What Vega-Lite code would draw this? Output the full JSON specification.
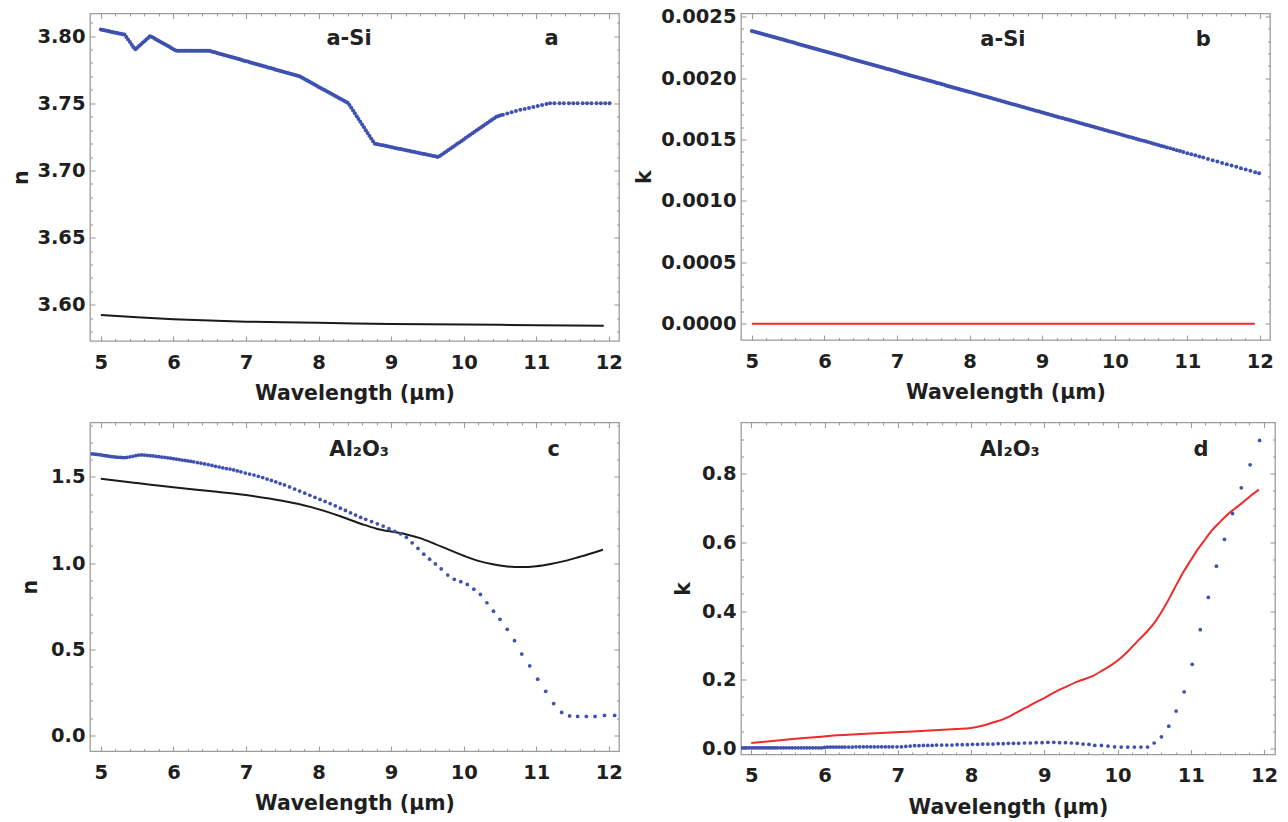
{
"$schema": "https://vega.github.io/schema/vega-lite/v6.json",
"autosize": {"type": "none"},
"padding": {"left": 90, "top": 13.5, "right": 1198, "bottom": 808},
"bounds": "flush",
"columns": 2,
"spacing": {"row": 81, "column": 122},
"config": {
  "view": {"stroke": "#9c9c9c", "strokeWidth": 1.3},
  "axis": {"domain": false, "grid": false, "tickColor": "#9c9c9c", "tickWidth": 1.1, "labelFont": "DejaVu Sans", "labelFontSize": 19.5, "labelFontWeight": "bold", "labelColor": "#1f1f1f", "titleFont": "DejaVu Sans", "titleFontSize": 20.5, "titleFontWeight": "bold", "titleColor": "#1f1f1f", "labelFlush": false, "labelOverlap": false}
},
"datasets": {
  "a_exp": [{"w":5.00,"v":3.8049},{"w":5.05,"v":3.8043},{"w":5.10,"v":3.8037},{"w":5.15,"v":3.8031},{"w":5.20,"v":3.8025},{"w":5.25,"v":3.8019},{"w":5.30,"v":3.8014},{"w":5.35,"v":3.7994},{"w":5.40,"v":3.7955},{"w":5.45,"v":3.7916},{"w":5.50,"v":3.7914},{"w":5.55,"v":3.7938},{"w":5.60,"v":3.7962},{"w":5.65,"v":3.7986},{"w":5.70,"v":3.7994},{"w":5.75,"v":3.7979},{"w":5.80,"v":3.7963},{"w":5.85,"v":3.7948},{"w":5.90,"v":3.7933},{"w":5.95,"v":3.7918},{"w":6.00,"v":3.7902},{"w":6.05,"v":3.789},{"w":6.10,"v":3.789},{"w":6.15,"v":3.789},{"w":6.20,"v":3.789},{"w":6.25,"v":3.789},{"w":6.30,"v":3.789},{"w":6.35,"v":3.789},{"w":6.40,"v":3.789},{"w":6.45,"v":3.789},{"w":6.50,"v":3.789},{"w":6.55,"v":3.7882},{"w":6.60,"v":3.7875},{"w":6.65,"v":3.7867},{"w":6.70,"v":3.7859},{"w":6.75,"v":3.7852},{"w":6.80,"v":3.7844},{"w":6.85,"v":3.7836},{"w":6.90,"v":3.7829},{"w":6.95,"v":3.7821},{"w":7.00,"v":3.7813},{"w":7.05,"v":3.7806},{"w":7.10,"v":3.7798},{"w":7.15,"v":3.779},{"w":7.20,"v":3.7783},{"w":7.25,"v":3.7775},{"w":7.30,"v":3.7767},{"w":7.35,"v":3.776},{"w":7.40,"v":3.7752},{"w":7.45,"v":3.7744},{"w":7.50,"v":3.7737},{"w":7.55,"v":3.7729},{"w":7.60,"v":3.7721},{"w":7.65,"v":3.7714},{"w":7.70,"v":3.7706},{"w":7.75,"v":3.7697},{"w":7.80,"v":3.7682},{"w":7.85,"v":3.7667},{"w":7.90,"v":3.7652},{"w":7.95,"v":3.7637},{"w":8.00,"v":3.7622},{"w":8.05,"v":3.7607},{"w":8.10,"v":3.7593},{"w":8.15,"v":3.7578},{"w":8.20,"v":3.7563},{"w":8.25,"v":3.7548},{"w":8.30,"v":3.7533},{"w":8.35,"v":3.7518},{"w":8.40,"v":3.7503},{"w":8.45,"v":3.7467},{"w":8.50,"v":3.7425},{"w":8.55,"v":3.7383},{"w":8.60,"v":3.7342},{"w":8.65,"v":3.73},{"w":8.70,"v":3.7258},{"w":8.75,"v":3.7217},{"w":8.80,"v":3.7197},{"w":8.86,"v":3.719},{"w":8.92,"v":3.7183},{"w":8.98,"v":3.7176},{"w":9.04,"v":3.7169},{"w":9.10,"v":3.7162},{"w":9.16,"v":3.7156},{"w":9.22,"v":3.7149},{"w":9.28,"v":3.7142},{"w":9.34,"v":3.7135},{"w":9.40,"v":3.7128},{"w":9.46,"v":3.7122},{"w":9.52,"v":3.7115},{"w":9.58,"v":3.7108},{"w":9.64,"v":3.7101},{"w":9.70,"v":3.7119},{"w":9.76,"v":3.7141},{"w":9.82,"v":3.7164},{"w":9.88,"v":3.7186},{"w":9.94,"v":3.7209},{"w":10.00,"v":3.7231},{"w":10.06,"v":3.7254},{"w":10.12,"v":3.7276},{"w":10.18,"v":3.7299},{"w":10.24,"v":3.7321},{"w":10.30,"v":3.7344},{"w":10.36,"v":3.7366},{"w":10.42,"v":3.7389},{"w":10.48,"v":3.7405},{"w":10.54,"v":3.7414},{"w":10.60,"v":3.7423},{"w":10.66,"v":3.7433},{"w":10.72,"v":3.7442},{"w":10.78,"v":3.7451},{"w":10.84,"v":3.7458},{"w":10.90,"v":3.7465},{"w":10.96,"v":3.7473},{"w":11.02,"v":3.748},{"w":11.08,"v":3.7487},{"w":11.14,"v":3.7494},{"w":11.19,"v":3.75},{"w":11.25,"v":3.75},{"w":11.32,"v":3.75},{"w":11.38,"v":3.75},{"w":11.45,"v":3.75},{"w":11.51,"v":3.75},{"w":11.57,"v":3.75},{"w":11.64,"v":3.75},{"w":11.70,"v":3.75},{"w":11.76,"v":3.75},{"w":11.83,"v":3.75},{"w":11.89,"v":3.75},{"w":11.95,"v":3.75},{"w":12.01,"v":3.75},
    {"w":5.025,"v":3.8046},{"w":5.075,"v":3.804},{"w":5.125,"v":3.8034},{"w":5.175,"v":3.8028},{"w":5.225,"v":3.8022},{"w":5.275,"v":3.8017},{"w":5.325,"v":3.8011},{"w":5.375,"v":3.7975},{"w":5.425,"v":3.7936},{"w":5.475,"v":3.7902},{"w":5.525,"v":3.7926},{"w":5.575,"v":3.795},{"w":5.625,"v":3.7974},{"w":5.675,"v":3.7998},{"w":5.725,"v":3.7987},{"w":5.775,"v":3.7971},{"w":5.825,"v":3.7956},{"w":5.875,"v":3.7941},{"w":5.925,"v":3.7926},{"w":5.975,"v":3.791},{"w":6.025,"v":3.7895},{"w":6.075,"v":3.789},{"w":6.125,"v":3.789},{"w":6.175,"v":3.789},{"w":6.225,"v":3.789},{"w":6.275,"v":3.789},{"w":6.325,"v":3.789},{"w":6.375,"v":3.789},{"w":6.425,"v":3.789},{"w":6.475,"v":3.789},{"w":6.525,"v":3.7886},{"w":6.575,"v":3.7879},{"w":6.625,"v":3.7871},{"w":6.675,"v":3.7863},{"w":6.725,"v":3.7856},{"w":6.775,"v":3.7848},{"w":6.825,"v":3.784},{"w":6.875,"v":3.7833},{"w":6.925,"v":3.7825},{"w":6.975,"v":3.7817},{"w":7.025,"v":3.781},{"w":7.075,"v":3.7802},{"w":7.125,"v":3.7794},{"w":7.175,"v":3.7787},{"w":7.225,"v":3.7779},{"w":7.275,"v":3.7771},{"w":7.325,"v":3.7764},{"w":7.375,"v":3.7756},{"w":7.425,"v":3.7748},{"w":7.475,"v":3.7741},{"w":7.525,"v":3.7733},{"w":7.575,"v":3.7725},{"w":7.625,"v":3.7718},{"w":7.675,"v":3.771},{"w":7.725,"v":3.7702},{"w":7.775,"v":3.769},{"w":7.825,"v":3.7675},{"w":7.875,"v":3.766},{"w":7.925,"v":3.7645},{"w":7.975,"v":3.763},{"w":8.025,"v":3.7615},{"w":8.075,"v":3.76},{"w":8.125,"v":3.7586},{"w":8.175,"v":3.7571},{"w":8.225,"v":3.7556},{"w":8.275,"v":3.7541},{"w":8.325,"v":3.7526},{"w":8.375,"v":3.7511},{"w":8.425,"v":3.7488},{"w":8.475,"v":3.7446},{"w":8.525,"v":3.7404},{"w":8.575,"v":3.7363},{"w":8.625,"v":3.7321},{"w":8.675,"v":3.7279},{"w":8.725,"v":3.7238},{"w":8.775,"v":3.7199},
    {"w":8.83,"v":3.7194},{"w":8.89,"v":3.7187},{"w":8.95,"v":3.718},{"w":9.01,"v":3.7173},{"w":9.07,"v":3.7166},{"w":9.13,"v":3.7159},{"w":9.19,"v":3.7153},{"w":9.25,"v":3.7146},{"w":9.31,"v":3.7139},{"w":9.37,"v":3.7132},{"w":9.43,"v":3.7125},{"w":9.49,"v":3.7119},{"w":9.55,"v":3.7112},{"w":9.61,"v":3.7105},{"w":9.67,"v":3.7108},{"w":9.73,"v":3.713},{"w":9.79,"v":3.7153},{"w":9.85,"v":3.7175},{"w":9.91,"v":3.7198},{"w":9.97,"v":3.722},{"w":10.03,"v":3.7243},{"w":10.09,"v":3.7265},{"w":10.15,"v":3.7288},{"w":10.21,"v":3.731},{"w":10.27,"v":3.7333},{"w":10.33,"v":3.7355},{"w":10.39,"v":3.7378},{"w":10.45,"v":3.74},{"w":10.51,"v":3.741}],
  "a_fit": [{"w":5.0,"v":3.5925},{"w":5.5,"v":3.5907},{"w":6.0,"v":3.5893},{"w":6.5,"v":3.5883},{"w":7.0,"v":3.5875},{"w":7.5,"v":3.587},{"w":8.0,"v":3.5866},{"w":8.5,"v":3.5862},{"w":9.0,"v":3.5858},{"w":9.5,"v":3.5856},{"w":10.0,"v":3.5853},{"w":10.5,"v":3.5851},{"w":11.0,"v":3.5848},{"w":11.5,"v":3.5846},{"w":11.93,"v":3.5845}],
  "b_exp": [{"w":5.00,"v":0.002384},{"w":5.05,"v":0.002376},{"w":5.10,"v":0.002368},{"w":5.15,"v":0.002359},{"w":5.20,"v":0.002351},{"w":5.25,"v":0.002343},{"w":5.30,"v":0.002335},{"w":5.35,"v":0.002326},{"w":5.40,"v":0.002318},{"w":5.45,"v":0.00231},{"w":5.50,"v":0.002301},{"w":5.55,"v":0.002293},{"w":5.60,"v":0.002285},{"w":5.65,"v":0.002276},{"w":5.70,"v":0.002268},{"w":5.75,"v":0.00226},{"w":5.80,"v":0.002252},{"w":5.85,"v":0.002243},{"w":5.90,"v":0.002235},{"w":5.95,"v":0.002227},{"w":6.00,"v":0.002218},{"w":6.05,"v":0.00221},{"w":6.10,"v":0.002202},{"w":6.15,"v":0.002194},{"w":6.20,"v":0.002185},{"w":6.25,"v":0.002177},{"w":6.30,"v":0.002169},{"w":6.35,"v":0.00216},{"w":6.40,"v":0.002152},{"w":6.45,"v":0.002144},{"w":6.50,"v":0.002135},{"w":6.55,"v":0.002127},{"w":6.60,"v":0.002119},{"w":6.65,"v":0.002111},{"w":6.70,"v":0.002102},{"w":6.75,"v":0.002094},{"w":6.80,"v":0.002086},{"w":6.85,"v":0.002077},{"w":6.90,"v":0.002069},{"w":6.95,"v":0.002061},{"w":7.00,"v":0.002053},{"w":7.05,"v":0.002044},{"w":7.10,"v":0.002036},{"w":7.15,"v":0.002028},{"w":7.20,"v":0.002019},{"w":7.25,"v":0.002011},{"w":7.30,"v":0.002003},{"w":7.35,"v":0.001994},{"w":7.40,"v":0.001986},{"w":7.45,"v":0.001978},{"w":7.50,"v":0.00197},{"w":7.55,"v":0.001961},{"w":7.60,"v":0.001953},{"w":7.65,"v":0.001945},{"w":7.70,"v":0.001936},{"w":7.75,"v":0.001928},{"w":7.80,"v":0.00192},{"w":7.85,"v":0.001911},{"w":7.90,"v":0.001903},{"w":7.95,"v":0.001895},{"w":8.00,"v":0.001887},{"w":8.06,"v":0.001877},{"w":8.12,"v":0.001867},{"w":8.18,"v":0.001857},{"w":8.24,"v":0.001847},{"w":8.30,"v":0.001837},{"w":8.36,"v":0.001827},{"w":8.42,"v":0.001817},{"w":8.48,"v":0.001807},{"w":8.54,"v":0.001797},{"w":8.60,"v":0.001787},{"w":8.66,"v":0.001777},{"w":8.72,"v":0.001767},{"w":8.78,"v":0.001757},{"w":8.84,"v":0.001747},{"w":8.90,"v":0.001737},{"w":8.96,"v":0.001727},{"w":9.02,"v":0.001717},{"w":9.08,"v":0.001707},{"w":9.14,"v":0.001697},{"w":9.20,"v":0.001687},{"w":9.26,"v":0.001677},{"w":9.32,"v":0.001667},{"w":9.38,"v":0.001658},{"w":9.44,"v":0.001648},{"w":9.50,"v":0.001638},{"w":9.56,"v":0.001628},{"w":9.62,"v":0.001618},{"w":9.68,"v":0.001608},{"w":9.74,"v":0.001598},{"w":9.80,"v":0.001588},{"w":9.86,"v":0.001578},{"w":9.92,"v":0.001568},{"w":9.98,"v":0.001558},{"w":10.05,"v":0.001547},{"w":10.12,"v":0.001535},{"w":10.19,"v":0.001523},{"w":10.26,"v":0.001512},{"w":10.33,"v":0.0015},{"w":10.40,"v":0.001489},{"w":10.47,"v":0.001477},
    {"w":5.025,"v":0.00238},{"w":5.075,"v":0.002372},{"w":5.125,"v":0.0023635},{"w":5.175,"v":0.002355},{"w":5.225,"v":0.002347},{"w":5.275,"v":0.002339},{"w":5.325,"v":0.0023305},{"w":5.375,"v":0.002322},{"w":5.425,"v":0.002314},{"w":5.475,"v":0.0023055},{"w":5.525,"v":0.002297},{"w":5.575,"v":0.002289},{"w":5.625,"v":0.0022805},{"w":5.675,"v":0.002272},{"w":5.725,"v":0.002264},{"w":5.775,"v":0.002256},{"w":5.825,"v":0.0022475},{"w":5.875,"v":0.002239},{"w":5.925,"v":0.002231},{"w":5.975,"v":0.0022225},{"w":6.025,"v":0.002214},{"w":6.075,"v":0.002206},{"w":6.125,"v":0.002198},{"w":6.175,"v":0.0021895},{"w":6.225,"v":0.002181},{"w":6.275,"v":0.002173},{"w":6.325,"v":0.0021645},{"w":6.375,"v":0.002156},{"w":6.425,"v":0.002148},{"w":6.475,"v":0.0021395},{"w":6.525,"v":0.002131},{"w":6.575,"v":0.002123},{"w":6.625,"v":0.002115},{"w":6.675,"v":0.0021065},{"w":6.725,"v":0.002098},{"w":6.775,"v":0.00209},{"w":6.825,"v":0.0020815},{"w":6.875,"v":0.002073},{"w":6.925,"v":0.002065},{"w":6.975,"v":0.002057},{"w":7.025,"v":0.0020485},{"w":7.075,"v":0.00204},{"w":7.125,"v":0.002032},{"w":7.175,"v":0.0020235},{"w":7.225,"v":0.002015},{"w":7.275,"v":0.002007},{"w":7.325,"v":0.0019985},{"w":7.375,"v":0.00199},{"w":7.425,"v":0.001982},{"w":7.475,"v":0.001974},{"w":7.525,"v":0.0019655},{"w":7.575,"v":0.001957},{"w":7.625,"v":0.001949},{"w":7.675,"v":0.0019405},{"w":7.725,"v":0.001932},{"w":7.775,"v":0.001924},{"w":7.825,"v":0.0019155},{"w":7.875,"v":0.001907},{"w":7.925,"v":0.001899},{"w":7.975,"v":0.001891},{"w":8.03,"v":0.001882},{"w":8.09,"v":0.001872},{"w":8.15,"v":0.001862},{"w":8.21,"v":0.001852},{"w":8.27,"v":0.001842},{"w":8.33,"v":0.001832},{"w":8.39,"v":0.001822},{"w":8.45,"v":0.001812},{"w":8.51,"v":0.001802},{"w":8.57,"v":0.001792},{"w":8.63,"v":0.001782},{"w":8.69,"v":0.001772},{"w":8.75,"v":0.001762},{"w":8.81,"v":0.001752},{"w":8.87,"v":0.001742},{"w":8.93,"v":0.001732},{"w":8.99,"v":0.001722},{"w":9.05,"v":0.001712},{"w":9.11,"v":0.001702},{"w":9.17,"v":0.001692},{"w":9.23,"v":0.001682},{"w":9.29,"v":0.001672},{"w":9.35,"v":0.0016625},{"w":9.41,"v":0.001653},{"w":9.47,"v":0.001643},{"w":9.53,"v":0.001633},{"w":9.59,"v":0.001623},{"w":9.65,"v":0.001613},{"w":9.71,"v":0.001603},{"w":9.77,"v":0.001593},{"w":9.83,"v":0.001583},{"w":9.89,"v":0.001573},{"w":9.95,"v":0.001563},{"w":10.015,"v":0.0015525},{"w":10.085,"v":0.001541},{"w":10.155,"v":0.001529},{"w":10.225,"v":0.0015175},{"w":10.295,"v":0.001506},{"w":10.365,"v":0.0014945},{"w":10.435,"v":0.001483},
    {"w":10.505,"v":0.001471},{"w":10.54,"v":0.001465},{"w":10.575,"v":0.0014594},{"w":10.61,"v":0.0014536},{"w":10.645,"v":0.0014478},{"w":10.68,"v":0.001442},{"w":10.72,"v":0.0014354},{"w":10.765,"v":0.0014279},{"w":10.81,"v":0.0014205},{"w":10.855,"v":0.001413},{"w":10.90,"v":0.0014055},{"w":10.945,"v":0.0013981},{"w":11.0,"v":0.0013889},{"w":11.055,"v":0.0013798},{"w":11.11,"v":0.0013707},{"w":11.165,"v":0.0013616},{"w":11.22,"v":0.0013525},{"w":11.285,"v":0.0013417},{"w":11.35,"v":0.0013309},{"w":11.415,"v":0.0013201},{"w":11.48,"v":0.0013093},{"w":11.545,"v":0.0012986},{"w":11.61,"v":0.0012878},{"w":11.675,"v":0.001277},{"w":11.74,"v":0.0012662},{"w":11.805,"v":0.0012554},{"w":11.87,"v":0.0012446},{"w":11.935,"v":0.0012338},{"w":11.99,"v":0.0012247}],
  "b_fit": [{"w":5.0,"v":0},{"w":8.5,"v":0},{"w":11.93,"v":0}],
  "al": [{"w":4.88,"n":1.634,"k":0.002},{"w":4.91,"n":1.633,"k":0.002},{"w":4.94,"n":1.631,"k":0.002},{"w":4.97,"n":1.63,"k":0.002},{"w":5.00,"n":1.628,"k":0.002},{"w":5.03,"n":1.626,"k":0.002},{"w":5.06,"n":1.624,"k":0.002},{"w":5.09,"n":1.622,"k":0.002},{"w":5.12,"n":1.62,"k":0.002},{"w":5.15,"n":1.618,"k":0.002},{"w":5.18,"n":1.617,"k":0.002},{"w":5.21,"n":1.615,"k":0.002},{"w":5.24,"n":1.614,"k":0.002},{"w":5.27,"n":1.614,"k":0.002},{"w":5.30,"n":1.613,"k":0.002},{"w":5.33,"n":1.613,"k":0.002},{"w":5.36,"n":1.614,"k":0.002},{"w":5.40,"n":1.617,"k":0.002},{"w":5.44,"n":1.62,"k":0.002},{"w":5.48,"n":1.624,"k":0.002},{"w":5.52,"n":1.627,"k":0.002},{"w":5.56,"n":1.628,"k":0.002},{"w":5.60,"n":1.627,"k":0.002},{"w":5.64,"n":1.626,"k":0.002},{"w":5.68,"n":1.624,"k":0.002},{"w":5.72,"n":1.622,"k":0.002},{"w":5.76,"n":1.62,"k":0.002},{"w":5.80,"n":1.618,"k":0.002},{"w":5.84,"n":1.616,"k":0.002},{"w":5.88,"n":1.614,"k":0.002},{"w":5.92,"n":1.611,"k":0.002},{"w":5.96,"n":1.609,"k":0.002},{"w":6.00,"n":1.606,"k":0.003},{"w":6.04,"n":1.604,"k":0.004},{"w":6.08,"n":1.601,"k":0.004},{"w":6.12,"n":1.598,"k":0.004},{"w":6.16,"n":1.596,"k":0.004},{"w":6.20,"n":1.593,"k":0.004},{"w":6.24,"n":1.591,"k":0.004},{"w":6.28,"n":1.588,"k":0.004},{"w":6.33,"n":1.584,"k":0.004},{"w":6.38,"n":1.58,"k":0.004},{"w":6.43,"n":1.576,"k":0.005},{"w":6.48,"n":1.572,"k":0.005},{"w":6.53,"n":1.567,"k":0.005},{"w":6.58,"n":1.562,"k":0.005},{"w":6.63,"n":1.558,"k":0.005},{"w":6.68,"n":1.553,"k":0.005},{"w":6.73,"n":1.549,"k":0.005},{"w":6.78,"n":1.546,"k":0.005},{"w":6.83,"n":1.541,"k":0.005},{"w":6.88,"n":1.535,"k":0.005},{"w":6.93,"n":1.53,"k":0.005},{"w":6.99,"n":1.523,"k":0.005},{"w":7.05,"n":1.517,"k":0.005},{"w":7.11,"n":1.511,"k":0.006},{"w":7.17,"n":1.504,"k":0.007},{"w":7.23,"n":1.497,"k":0.008},{"w":7.29,"n":1.488,"k":0.008},{"w":7.35,"n":1.48,"k":0.009},{"w":7.41,"n":1.471,"k":0.009},{"w":7.47,"n":1.462,"k":0.009},{"w":7.53,"n":1.454,"k":0.01},{"w":7.60,"n":1.442,"k":0.01},{"w":7.67,"n":1.43,"k":0.01},{"w":7.74,"n":1.418,"k":0.01},{"w":7.81,"n":1.406,"k":0.011},{"w":7.88,"n":1.394,"k":0.011},{"w":7.95,"n":1.382,"k":0.011},{"w":8.02,"n":1.37,"k":0.012},{"w":8.09,"n":1.358,"k":0.012},{"w":8.16,"n":1.346,"k":0.013},{"w":8.23,"n":1.333,"k":0.013},{"w":8.30,"n":1.319,"k":0.013},{"w":8.37,"n":1.306,"k":0.014},{"w":8.44,"n":1.292,"k":0.014},{"w":8.51,"n":1.279,"k":0.015},{"w":8.58,"n":1.265,"k":0.015},{"w":8.65,"n":1.254,"k":0.015},{"w":8.73,"n":1.241,"k":0.016},{"w":8.81,"n":1.228,"k":0.016},{"w":8.89,"n":1.215,"k":0.017},{"w":8.97,"n":1.2,"k":0.017},{"w":9.05,"n":1.185,"k":0.018},{"w":9.13,"n":1.17,"k":0.018},{"w":9.21,"n":1.15,"k":0.017},{"w":9.29,"n":1.118,"k":0.017},{"w":9.37,"n":1.085,"k":0.016},{"w":9.45,"n":1.052,"k":0.015},{"w":9.53,"n":1.023,"k":0.013},{"w":9.61,"n":0.995,"k":0.012},{"w":9.69,"n":0.966,"k":0.009},{"w":9.78,"n":0.931,"k":0.009},{"w":9.87,"n":0.906,"k":0.007},{"w":9.96,"n":0.892,"k":0.005},{"w":10.05,"n":0.876,"k":0.004},{"w":10.14,"n":0.849,"k":0.004},{"w":10.23,"n":0.818,"k":0.004},{"w":10.32,"n":0.77,"k":0.004},{"w":10.41,"n":0.721,"k":0.004},{"w":10.50,"n":0.674,"k":0.016},{"w":10.60,"n":0.616,"k":0.034},{"w":10.70,"n":0.55,"k":0.065},{"w":10.80,"n":0.472,"k":0.109},{"w":10.91,"n":0.404,"k":0.165},{"w":11.02,"n":0.326,"k":0.245},{"w":11.13,"n":0.256,"k":0.346},{"w":11.24,"n":0.185,"k":0.44},{"w":11.35,"n":0.133,"k":0.531},{"w":11.46,"n":0.113,"k":0.609},{"w":11.57,"n":0.11,"k":0.684},{"w":11.69,"n":0.11,"k":0.759},{"w":11.81,"n":0.11,"k":0.826},{"w":11.94,"n":0.116,"k":0.897},{"w":12.08,"n":0.116}],
  "c_fit": [{"w":5.0,"v":1.49},{"w":5.5,"v":1.465},{"w":6.0,"v":1.44},{"w":6.5,"v":1.418},{"w":7.0,"v":1.395},{"w":7.5,"v":1.362},{"w":7.9,"v":1.325},{"w":8.3,"v":1.272},{"w":8.6,"v":1.226},{"w":8.8,"v":1.2},{"w":9.0,"v":1.183},{"w":9.2,"v":1.168},{"w":9.4,"v":1.145},{"w":9.6,"v":1.112},{"w":9.8,"v":1.077},{"w":10.0,"v":1.043},{"w":10.2,"v":1.013},{"w":10.4,"v":0.993},{"w":10.6,"v":0.981},{"w":10.8,"v":0.977},{"w":11.0,"v":0.982},{"w":11.2,"v":0.995},{"w":11.4,"v":1.013},{"w":11.6,"v":1.037},{"w":11.8,"v":1.062},{"w":11.92,"v":1.078}],
  "d_fit": [{"w":5.0,"v":0.016},{"w":5.5,"v":0.026},{"w":6.02,"v":0.036},{"w":6.5,"v":0.042},{"w":7.04,"v":0.048},{"w":7.5,"v":0.053},{"w":7.8,"v":0.057},{"w":8.0,"v":0.06},{"w":8.15,"v":0.066},{"w":8.29,"v":0.075},{"w":8.46,"v":0.087},{"w":8.6,"v":0.102},{"w":8.74,"v":0.118},{"w":8.87,"v":0.133},{"w":9.0,"v":0.147},{"w":9.15,"v":0.165},{"w":9.31,"v":0.181},{"w":9.47,"v":0.196},{"w":9.65,"v":0.21},{"w":9.8,"v":0.228},{"w":9.99,"v":0.254},{"w":10.13,"v":0.28},{"w":10.27,"v":0.312},{"w":10.4,"v":0.34},{"w":10.52,"v":0.371},{"w":10.66,"v":0.419},{"w":10.77,"v":0.463},{"w":10.88,"v":0.507},{"w":11.0,"v":0.548},{"w":11.11,"v":0.584},{"w":11.2,"v":0.61},{"w":11.28,"v":0.633},{"w":11.4,"v":0.66},{"w":11.5,"v":0.681},{"w":11.6,"v":0.698},{"w":11.73,"v":0.72},{"w":11.83,"v":0.738},{"w":11.93,"v":0.754}]
},
"concat": [
  {"width": 529, "height": 327.5,
   "resolve": {"axis": {"x": "independent", "y": "independent"}},
   "layer": [
    {"data": {"name": "a_fit"}, "mark": {"type": "line", "color": "#1a1a1a", "strokeWidth": 2},
     "encoding": {"x": {"field": "w", "type": "quantitative", "scale": {"domain": [4.85, 12.14], "nice": false, "zero": false}, "axis": {"orient": "top", "values": [5,6,7,8,9,10,11,12], "tickSize": -5, "labels": false, "title": null}},
                  "y": {"field": "v", "type": "quantitative", "scale": {"domain": [3.5731, 3.8168], "nice": false, "zero": false}, "axis": {"orient": "right", "values": [3.6,3.65,3.7,3.75,3.8], "tickSize": -5, "labels": false, "title": null}}}},
    {"data": {"name": "a_exp"}, "mark": {"type": "circle", "size": 16, "color": "#3f51b0", "opacity": 1},
     "encoding": {"x": {"field": "w", "type": "quantitative", "scale": {"domain": [4.85, 12.14], "nice": false, "zero": false}, "axis": {"orient": "bottom", "values": [5,6,7,8,9,10,11,12], "tickSize": -5, "labelPadding": 17, "title": "Wavelength (μm)", "titlePadding": 12}},
                  "y": {"field": "v", "type": "quantitative", "scale": {"domain": [3.5731, 3.8168], "nice": false, "zero": false}, "axis": {"orient": "left", "values": [3.6,3.65,3.7,3.75,3.8], "format": ".2f", "tickSize": -5, "labelPadding": 10, "title": "n", "titlePadding": 5}}}},
    {"data": {"values": [{"w": 8.42, "v": 3.798, "t": "a-Si"}]}, "mark": {"type": "text", "font": "DejaVu Sans", "fontWeight": "bold", "fontSize": 21, "color": "#222222", "align": "center", "baseline": "middle"},
     "encoding": {"text": {"field": "t"}, "x": {"field": "w", "type": "quantitative", "scale": {"domain": [4.85, 12.14], "nice": false, "zero": false}, "axis": {"orient": "bottom", "values": [5.2,5.4,5.6,5.8,6.2,6.4,6.6,6.8,7.2,7.4,7.6,7.8,8.2,8.4,8.6,8.8,9.2,9.4,9.6,9.8,10.2,10.4,10.6,10.8,11.2,11.4,11.6,11.8], "tickSize": -2.5, "labels": false, "title": null}},
                  "y": {"field": "v", "type": "quantitative", "scale": {"domain": [3.5731, 3.8168], "nice": false, "zero": false}, "axis": {"orient": "left", "values": [3.58,3.59,3.61,3.62,3.63,3.64,3.66,3.67,3.68,3.69,3.71,3.72,3.73,3.74,3.76,3.77,3.78,3.79,3.81], "tickSize": -2.5, "labels": false, "title": null}}}},
    {"data": {"values": [{"w": 11.21, "v": 3.798, "t": "a"}]}, "mark": {"type": "text", "font": "DejaVu Sans", "fontWeight": "bold", "fontSize": 21, "color": "#222222", "align": "center", "baseline": "middle"},
     "encoding": {"text": {"field": "t"}, "x": {"field": "w", "type": "quantitative", "scale": {"domain": [4.85, 12.14], "nice": false, "zero": false}, "axis": {"orient": "top", "values": [5.2,5.4,5.6,5.8,6.2,6.4,6.6,6.8,7.2,7.4,7.6,7.8,8.2,8.4,8.6,8.8,9.2,9.4,9.6,9.8,10.2,10.4,10.6,10.8,11.2,11.4,11.6,11.8], "tickSize": -2.5, "labels": false, "title": null}},
                  "y": {"field": "v", "type": "quantitative", "scale": {"domain": [3.5731, 3.8168], "nice": false, "zero": false}, "axis": {"orient": "right", "values": [3.58,3.59,3.61,3.62,3.63,3.64,3.66,3.67,3.68,3.69,3.71,3.72,3.73,3.74,3.76,3.77,3.78,3.79,3.81], "tickSize": -2.5, "labels": false, "title": null}}}}
   ]},
  {"width": 529, "height": 326.5,
   "resolve": {"axis": {"x": "independent", "y": "independent"}},
   "layer": [
    {"data": {"name": "b_fit"}, "mark": {"type": "line", "color": "#ee2a2a", "strokeWidth": 2},
     "encoding": {"x": {"field": "w", "type": "quantitative", "scale": {"domain": [4.85, 12.14], "nice": false, "zero": false}, "axis": {"orient": "top", "values": [5,6,7,8,9,10,11,12], "tickSize": -5, "labels": false, "title": null}},
                  "y": {"field": "v", "type": "quantitative", "scale": {"domain": [-0.000133, 0.002526], "nice": false, "zero": false}, "axis": {"orient": "right", "values": [0,0.0005,0.001,0.0015,0.002,0.0025], "tickSize": -5, "labels": false, "title": null}}}},
    {"data": {"name": "b_exp"}, "mark": {"type": "circle", "size": 16, "color": "#3f51b0", "opacity": 1},
     "encoding": {"x": {"field": "w", "type": "quantitative", "scale": {"domain": [4.85, 12.14], "nice": false, "zero": false}, "axis": {"orient": "bottom", "values": [5,6,7,8,9,10,11,12], "tickSize": -5, "labelPadding": 17, "title": "Wavelength (μm)", "titlePadding": 12}},
                  "y": {"field": "v", "type": "quantitative", "scale": {"domain": [-0.000133, 0.002526], "nice": false, "zero": false}, "axis": {"orient": "left", "values": [0,0.0005,0.001,0.0015,0.002,0.0025], "format": ".4f", "tickSize": -5, "labelPadding": 10, "title": "k", "titlePadding": 6}}}},
    {"data": {"values": [{"w": 8.46, "v": 0.00231, "t": "a-Si"}]}, "mark": {"type": "text", "font": "DejaVu Sans", "fontWeight": "bold", "fontSize": 21, "color": "#222222", "align": "center", "baseline": "middle"},
     "encoding": {"text": {"field": "t"}, "x": {"field": "w", "type": "quantitative", "scale": {"domain": [4.85, 12.14], "nice": false, "zero": false}, "axis": {"orient": "bottom", "values": [5.2,5.4,5.6,5.8,6.2,6.4,6.6,6.8,7.2,7.4,7.6,7.8,8.2,8.4,8.6,8.8,9.2,9.4,9.6,9.8,10.2,10.4,10.6,10.8,11.2,11.4,11.6,11.8], "tickSize": -2.5, "labels": false, "title": null}},
                  "y": {"field": "v", "type": "quantitative", "scale": {"domain": [-0.000133, 0.002526], "nice": false, "zero": false}, "axis": {"orient": "left", "values": [0.0001,0.0002,0.0003,0.0004,0.0006,0.0007,0.0008,0.0009,0.0011,0.0012,0.0013,0.0014,0.0016,0.0017,0.0018,0.0019,0.0021,0.0022,0.0023,0.0024], "tickSize": -2.5, "labels": false, "title": null}}}},
    {"data": {"values": [{"w": 11.22, "v": 0.00231, "t": "b"}]}, "mark": {"type": "text", "font": "DejaVu Sans", "fontWeight": "bold", "fontSize": 21, "color": "#222222", "align": "center", "baseline": "middle"},
     "encoding": {"text": {"field": "t"}, "x": {"field": "w", "type": "quantitative", "scale": {"domain": [4.85, 12.14], "nice": false, "zero": false}, "axis": {"orient": "top", "values": [5.2,5.4,5.6,5.8,6.2,6.4,6.6,6.8,7.2,7.4,7.6,7.8,8.2,8.4,8.6,8.8,9.2,9.4,9.6,9.8,10.2,10.4,10.6,10.8,11.2,11.4,11.6,11.8], "tickSize": -2.5, "labels": false, "title": null}},
                  "y": {"field": "v", "type": "quantitative", "scale": {"domain": [-0.000133, 0.002526], "nice": false, "zero": false}, "axis": {"orient": "right", "values": [0.0001,0.0002,0.0003,0.0004,0.0006,0.0007,0.0008,0.0009,0.0011,0.0012,0.0013,0.0014,0.0016,0.0017,0.0018,0.0019,0.0021,0.0022,0.0023,0.0024], "tickSize": -2.5, "labels": false, "title": null}}}}
   ]},
  {"width": 529, "height": 328.6,
   "resolve": {"axis": {"x": "independent", "y": "independent"}},
   "layer": [
    {"data": {"name": "c_fit"}, "mark": {"type": "line", "color": "#1a1a1a", "strokeWidth": 2, "interpolate": "monotone"},
     "encoding": {"x": {"field": "w", "type": "quantitative", "scale": {"domain": [4.85, 12.14], "nice": false, "zero": false}, "axis": {"orient": "top", "values": [5,6,7,8,9,10,11,12], "tickSize": -5, "labels": false, "title": null}},
                  "y": {"field": "v", "type": "quantitative", "scale": {"domain": [-0.0911, 1.8163], "nice": false, "zero": false}, "axis": {"orient": "right", "values": [0,0.5,1,1.5], "tickSize": -5, "labels": false, "title": null}}}},
    {"data": {"name": "al"}, "mark": {"type": "circle", "size": 14, "color": "#3f51b0", "opacity": 1, "clip": true},
     "encoding": {"x": {"field": "w", "type": "quantitative", "scale": {"domain": [4.85, 12.14], "nice": false, "zero": false}, "axis": {"orient": "bottom", "values": [5,6,7,8,9,10,11,12], "tickSize": -5, "labelPadding": 17, "title": "Wavelength (μm)", "titlePadding": 12}},
                  "y": {"field": "n", "type": "quantitative", "scale": {"domain": [-0.0911, 1.8163], "nice": false, "zero": false}, "axis": {"orient": "left", "values": [0,0.5,1,1.5], "format": ".1f", "tickSize": -5, "labelPadding": 10, "title": "n", "titlePadding": 10}}}},
    {"data": {"values": [{"w": 8.56, "v": 1.654, "t": "Al₂O₃"}]}, "mark": {"type": "text", "font": "DejaVu Sans", "fontWeight": "bold", "fontSize": 21, "color": "#222222", "align": "center", "baseline": "middle"},
     "encoding": {"text": {"field": "t"}, "x": {"field": "w", "type": "quantitative", "scale": {"domain": [4.85, 12.14], "nice": false, "zero": false}, "axis": {"orient": "bottom", "values": [5.2,5.4,5.6,5.8,6.2,6.4,6.6,6.8,7.2,7.4,7.6,7.8,8.2,8.4,8.6,8.8,9.2,9.4,9.6,9.8,10.2,10.4,10.6,10.8,11.2,11.4,11.6,11.8], "tickSize": -2.5, "labels": false, "title": null}},
                  "y": {"field": "v", "type": "quantitative", "scale": {"domain": [-0.0911, 1.8163], "nice": false, "zero": false}, "axis": {"orient": "left", "values": [0.1,0.2,0.3,0.4,0.6,0.7,0.8,0.9,1.1,1.2,1.3,1.4,1.6,1.7,1.8], "tickSize": -2.5, "labels": false, "title": null}}}},
    {"data": {"values": [{"w": 11.24, "v": 1.654, "t": "c"}]}, "mark": {"type": "text", "font": "DejaVu Sans", "fontWeight": "bold", "fontSize": 21, "color": "#222222", "align": "center", "baseline": "middle"},
     "encoding": {"text": {"field": "t"}, "x": {"field": "w", "type": "quantitative", "scale": {"domain": [4.85, 12.14], "nice": false, "zero": false}, "axis": {"orient": "top", "values": [5.2,5.4,5.6,5.8,6.2,6.4,6.6,6.8,7.2,7.4,7.6,7.8,8.2,8.4,8.6,8.8,9.2,9.4,9.6,9.8,10.2,10.4,10.6,10.8,11.2,11.4,11.6,11.8], "tickSize": -2.5, "labels": false, "title": null}},
                  "y": {"field": "v", "type": "quantitative", "scale": {"domain": [-0.0911, 1.8163], "nice": false, "zero": false}, "axis": {"orient": "right", "values": [0.1,0.2,0.3,0.4,0.6,0.7,0.8,0.9,1.1,1.2,1.3,1.4,1.6,1.7,1.8], "tickSize": -2.5, "labels": false, "title": null}}}}
   ]},
  {"width": 534, "height": 332,
   "resolve": {"axis": {"x": "independent", "y": "independent"}},
   "layer": [
    {"data": {"name": "d_fit"}, "mark": {"type": "line", "color": "#ee2a2a", "strokeWidth": 2, "interpolate": "monotone"},
     "encoding": {"x": {"field": "w", "type": "quantitative", "scale": {"domain": [4.86, 12.15], "nice": false, "zero": false}, "axis": {"orient": "top", "values": [5,6,7,8,9,10,11,12], "tickSize": -5, "labels": false, "title": null}},
                  "y": {"field": "v", "type": "quantitative", "scale": {"domain": [-0.0175, 0.9493], "nice": false, "zero": false}, "axis": {"orient": "right", "values": [0,0.2,0.4,0.6,0.8], "tickSize": -5, "labels": false, "title": null}}}},
    {"data": {"name": "al"}, "mark": {"type": "circle", "size": 14, "color": "#3f51b0", "opacity": 1, "clip": true},
     "encoding": {"x": {"field": "w", "type": "quantitative", "scale": {"domain": [4.86, 12.15], "nice": false, "zero": false}, "axis": {"orient": "bottom", "values": [5,6,7,8,9,10,11,12], "tickSize": -5, "labelPadding": 17, "title": "Wavelength (μm)", "titlePadding": 12}},
                  "y": {"field": "k", "type": "quantitative", "scale": {"domain": [-0.0175, 0.9493], "nice": false, "zero": false}, "axis": {"orient": "left", "values": [0,0.2,0.4,0.6,0.8], "format": ".1f", "tickSize": -5, "labelPadding": 10, "title": "k", "titlePadding": 8}}}},
    {"data": {"values": [{"w": 8.53, "v": 0.868, "t": "Al₂O₃"}]}, "mark": {"type": "text", "font": "DejaVu Sans", "fontWeight": "bold", "fontSize": 21, "color": "#222222", "align": "center", "baseline": "middle"},
     "encoding": {"text": {"field": "t"}, "x": {"field": "w", "type": "quantitative", "scale": {"domain": [4.86, 12.15], "nice": false, "zero": false}, "axis": {"orient": "bottom", "values": [5.2,5.4,5.6,5.8,6.2,6.4,6.6,6.8,7.2,7.4,7.6,7.8,8.2,8.4,8.6,8.8,9.2,9.4,9.6,9.8,10.2,10.4,10.6,10.8,11.2,11.4,11.6,11.8], "tickSize": -2.5, "labels": false, "title": null}},
                  "y": {"field": "v", "type": "quantitative", "scale": {"domain": [-0.0175, 0.9493], "nice": false, "zero": false}, "axis": {"orient": "left", "values": [0.05,0.1,0.15,0.25,0.3,0.35,0.45,0.5,0.55,0.65,0.7,0.75,0.85,0.9], "tickSize": -2.5, "labels": false, "title": null}}}},
    {"data": {"values": [{"w": 11.14, "v": 0.868, "t": "d"}]}, "mark": {"type": "text", "font": "DejaVu Sans", "fontWeight": "bold", "fontSize": 21, "color": "#222222", "align": "center", "baseline": "middle"},
     "encoding": {"text": {"field": "t"}, "x": {"field": "w", "type": "quantitative", "scale": {"domain": [4.86, 12.15], "nice": false, "zero": false}, "axis": {"orient": "top", "values": [5.2,5.4,5.6,5.8,6.2,6.4,6.6,6.8,7.2,7.4,7.6,7.8,8.2,8.4,8.6,8.8,9.2,9.4,9.6,9.8,10.2,10.4,10.6,10.8,11.2,11.4,11.6,11.8], "tickSize": -2.5, "labels": false, "title": null}},
                  "y": {"field": "v", "type": "quantitative", "scale": {"domain": [-0.0175, 0.9493], "nice": false, "zero": false}, "axis": {"orient": "right", "values": [0.05,0.1,0.15,0.25,0.3,0.35,0.45,0.5,0.55,0.65,0.7,0.75,0.85,0.9], "tickSize": -2.5, "labels": false, "title": null}}}}
   ]}
]
}
